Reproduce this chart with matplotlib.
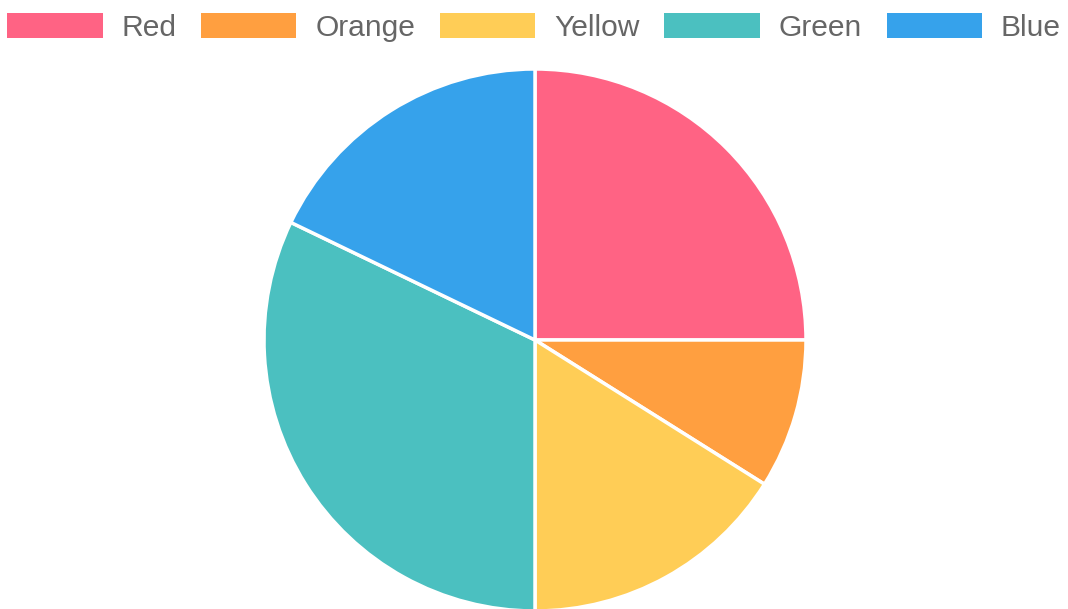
import matplotlib.pyplot as plt

labels = ['Red', 'Orange', 'Yellow', 'Green', 'Blue']
values = [14, 5, 9, 18, 10]
colors = ['#ff6384', '#ff9f40', '#ffcd56', '#4bc0c0', '#36a2eb']

W, H = 1068, 609
plt.rcParams['font.family'] = ['Liberation Sans', 'DejaVu Sans']

fig = plt.figure(figsize=(W / 100, H / 100), dpi=100)

# pie centre ~ (535, 340) px, radius ~271 px
cx, cy, r = 535, 340, 271
ax = fig.add_axes([(cx - r) / W, (H - cy - r) / H, 2 * r / W, 2 * r / H])
wedges, _ = ax.pie(values, colors=colors, startangle=90, counterclock=False,
                   radius=1.0, wedgeprops=dict(edgecolor='white', linewidth=2.5))
ax.set_xlim(-1, 1)
ax.set_ylim(-1, 1)
ax.set_aspect('equal')
ax.axis('off')

leg = fig.legend(wedges, labels, loc='upper center', bbox_to_anchor=(0.5, 0.998),
                 ncol=5, frameon=False, fontsize=21.6,
                 handlelength=3.17, handleheight=0.9, handletextpad=0.63,
                 columnspacing=0.83, borderaxespad=0.0)
for t in leg.get_texts():
    t.set_color('#666666')
for h in leg.legend_handles:
    h.set_linewidth(0)

fig.savefig('out.png', dpi=100)
